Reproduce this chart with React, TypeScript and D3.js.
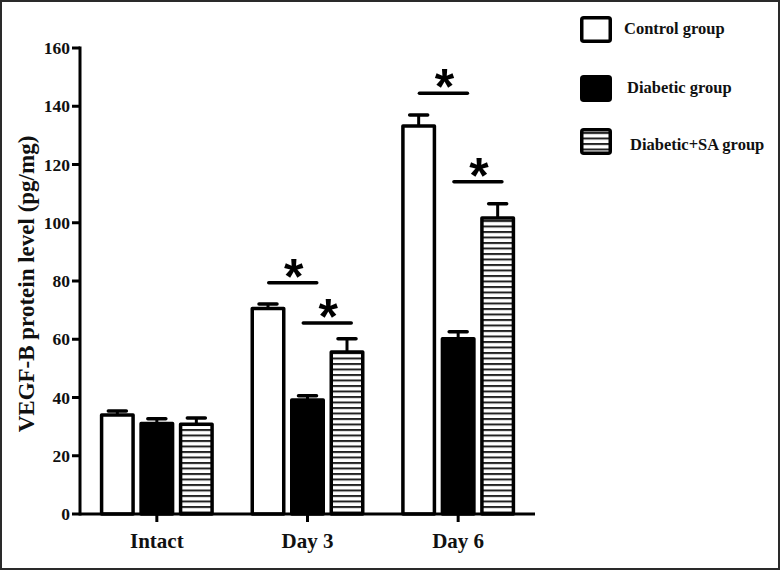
import React from "react";
import * as d3 from "d3";

const categories = ["Intact", "Day 3", "Day 6"];
const seriesNames = ["Control group", "Diabetic group", "Diabetic+SA group"];
const controlMeans = [34, 70.6, 133.2];
const controlErr = [1.4, 1.5, 3.8];
const diabeticMeans = [31.1, 39.1, 60.2];
const diabeticErr = [1.6, 1.5, 2.4];
const saMeans = [30.8, 55.6, 101.6];
const saErr = [2.2, 4.6, 4.9];
const yTicks = [0, 20, 40, 60, 80, 100, 120, 140, 160];
// significance: category, from series index, to series index, height (value units)
const sigCategory = ["Day 3", "Day 3", "Day 6", "Day 6"];
const sigFrom = [0, 1, 0, 1];
const sigTo = [1, 2, 1, 2];
const sigLevel = [79.4, 65.6, 144.5, 114.1];

const W = 780;
const H = 570;
const serif = "'Liberation Serif', 'Times New Roman', serif";

export default function App() {
  const y = d3.scaleLinear().domain([0, 160]).range([514, 48]);
  const x = d3.scalePoint<string>().domain(categories).range([80, 535]).padding(0.51);
  const inner = d3.scaleBand<number>().domain([0, 1, 2]).range([-57, 57]).paddingInner(0.114).paddingOuter(0);
  const bw = inner.bandwidth();
  const means = [controlMeans, diabeticMeans, saMeans];
  const errs = [controlErr, diabeticErr, saErr];
  const fills = ["#ffffff", "#000000", "url(#hatch)"];
  const sigDx = [5, 0, 5, 0];
  const center = (c: string, s: number) => (x(c) as number) + (inner(s) as number) + bw / 2;

  return (
    <div style={{ position: "absolute", left: 0, top: 0 }}>
      <svg width={W} height={H} style={{ display: "block" }}>
        <defs>
          <pattern id="hatch" patternUnits="userSpaceOnUse" width={10} height={5.5}>
            <rect width={10} height={5.5} fill="#fff" />
            <rect y={0} width={10} height={2} fill="#222" />
          </pattern>
        </defs>
        <rect x={0} y={0} width={W} height={H} fill="#fff" />
        <rect x={1} y={1} width={W - 2} height={H - 2} fill="none" stroke="#2a2a2a" strokeWidth={2} />

        {/* y axis */}
        <line x1={80} x2={80} y1={y(160) - 1.5} y2={y(0) + 1.5} stroke="#000" strokeWidth={3} />
        {yTicks.map((t) => (
          <g key={t}>
            <line x1={72} x2={80} y1={y(t)} y2={y(t)} stroke="#000" strokeWidth={3} />
            <text x={70} y={y(t)} dy="0.35em" textAnchor="end" fontFamily={serif} fontWeight="bold" fontSize={17.5} fill="#111">
              {t}
            </text>
          </g>
        ))}
        <text
          transform={`translate(34, 284) rotate(-90)`}
          textAnchor="middle"
          fontFamily={serif}
          fontWeight="bold"
          fontSize={23}
          fill="#111"
        >
          VEGF-B protein level (pg/mg)
        </text>

        {/* bars */}
        {categories.map((c, ci) =>
          [0, 1, 2].map((s) => {
            const x0 = (x(c) as number) + (inner(s) as number);
            const v = means[s][ci];
            const e = errs[s][ci];
            const cx = x0 + bw / 2;
            return (
              <g key={c + s}>
                <line x1={cx} x2={cx} y1={y(v)} y2={y(v + e)} stroke="#000" strokeWidth={3} />
                <line x1={cx - 9} x2={cx + 9} y1={y(v + e)} y2={y(v + e)} stroke="#000" strokeWidth={3.5} strokeLinecap="round" />
                <rect
                  x={x0 + 1.75}
                  y={y(v)}
                  width={bw - 3.5}
                  height={y(0) - y(v)}
                  fill={fills[s]}
                  stroke="#000"
                  strokeWidth={3.5}
                  strokeLinejoin="round"
                />
              </g>
            );
          })
        )}

        {/* x axis */}
        <line x1={80} x2={535} y1={y(0)} y2={y(0)} stroke="#000" strokeWidth={3} />
        {categories.map((c) => (
          <g key={c}>
            <line x1={x(c)} x2={x(c)} y1={y(0)} y2={y(0) + 8} stroke="#000" strokeWidth={3} />
            <text x={x(c)} y={548} textAnchor="middle" fontFamily={serif} fontWeight="bold" fontSize={21} fill="#111">
              {c}
            </text>
          </g>
        ))}

        {/* significance */}
        {sigCategory.map((c, i) => {
          const mid = (center(c, sigFrom[i]) + center(c, sigTo[i])) / 2 + sigDx[i];
          const yy = y(sigLevel[i]);
          return (
            <g key={"sig" + i}>
              <line x1={mid - 24} x2={mid + 24} y1={yy} y2={yy} stroke="#000" strokeWidth={3.5} strokeLinecap="round" />
              <text x={mid + 1} y={yy + 11} textAnchor="middle" fontFamily="'Liberation Sans', Arial, sans-serif" fontWeight="bold" fontSize={50} fill="#000">
                *
              </text>
            </g>
          );
        })}

        {/* legend */}
        {seriesNames.map((n, i) => {
          const top = [16, 75, 128][i];
          const tx = [624, 627, 630][i];
          const ty = [34, 93, 150][i];
          return (
            <g key={n}>
              <rect x={581.75} y={top + 1.75} width={28.5} height={23.5} rx={2} fill={fills[i]} stroke="#000" strokeWidth={3.5} />
              <text x={tx} y={ty} fontFamily={serif} fontWeight="bold" fontSize={16.5} fill="#111">
                {n}
              </text>
            </g>
          );
        })}
      </svg>
    </div>
  );
}
